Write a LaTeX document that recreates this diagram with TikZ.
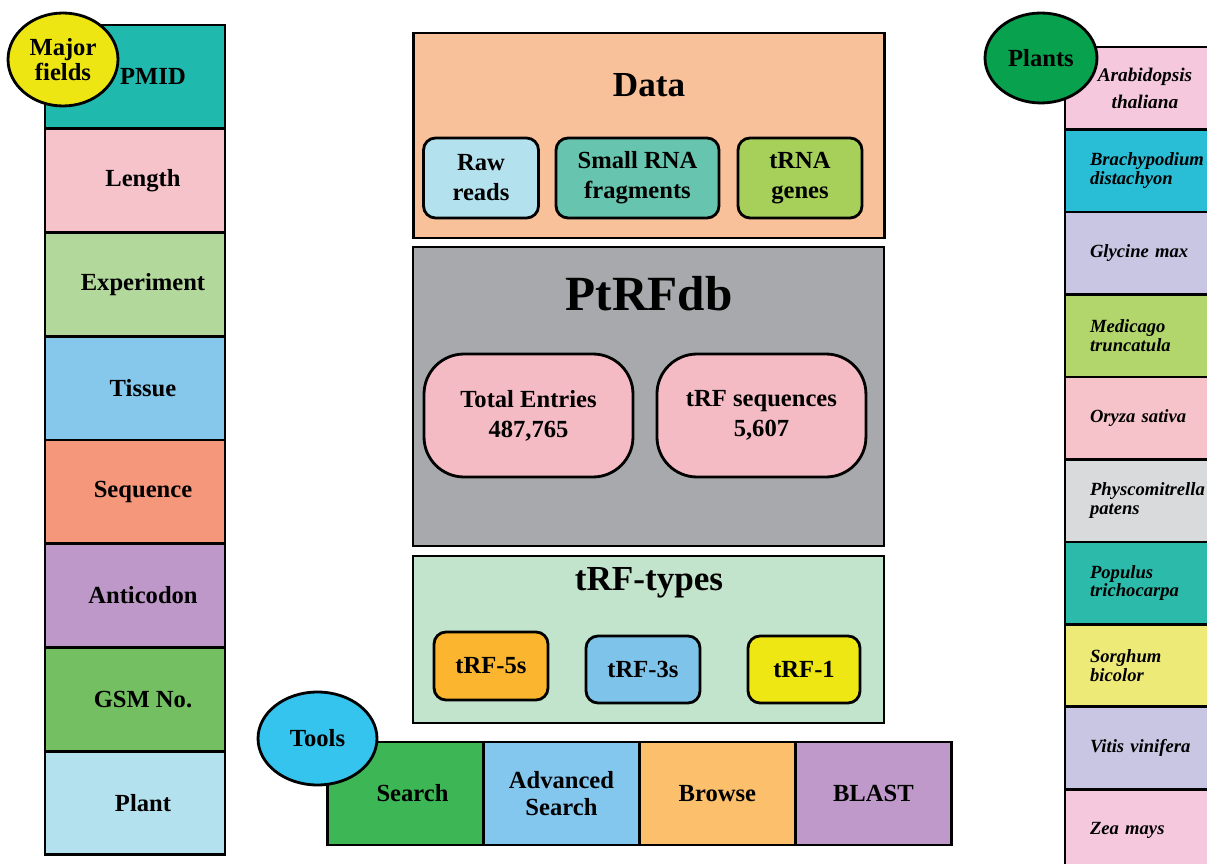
\documentclass[tikz,border=0pt]{standalone}
\usepackage{fontspec}
\setmainfont{Liberation Serif}
\usetikzlibrary{positioning,shapes.geometric}

\definecolor{cPmid}{HTML}{20B9AE}
\definecolor{cLength}{HTML}{F7C3CA}
\definecolor{cExp}{HTML}{B3D89C}
\definecolor{cTissue}{HTML}{85C8EC}
\definecolor{cSeq}{HTML}{F4977A}
\definecolor{cAnti}{HTML}{BD98C8}
\definecolor{cGsm}{HTML}{73BF62}
\definecolor{cPlant}{HTML}{B3E1ED}
\definecolor{cMajor}{HTML}{EDE613}
\definecolor{cData}{HTML}{F9C19A}
\definecolor{cRaw}{HTML}{B4E1EE}
\definecolor{cSrna}{HTML}{67C5AF}
\definecolor{cTrna}{HTML}{A7D05A}
\definecolor{cDb}{HTML}{A7A9AC}
\definecolor{cPill}{HTML}{F5BBC5}
\definecolor{cTypes}{HTML}{C3E4CC}
\definecolor{cT5}{HTML}{FBB52E}
\definecolor{cT3}{HTML}{7EC4EA}
\definecolor{cT1}{HTML}{EEE714}
\definecolor{cTools}{HTML}{35C4EE}
\definecolor{cSearch}{HTML}{3DB656}
\definecolor{cAdv}{HTML}{83C6EE}
\definecolor{cBrowse}{HTML}{FCC06C}
\definecolor{cBlast}{HTML}{BE99C9}
\definecolor{cPlants}{HTML}{08A14E}
\definecolor{cArab}{HTML}{F6C8DE}
\definecolor{cBrachy}{HTML}{2ABDD6}
\definecolor{cGly}{HTML}{C8C6E2}
\definecolor{cMed}{HTML}{B3D66C}
\definecolor{cOry}{HTML}{F7C3CA}
\definecolor{cPhy}{HTML}{D9DADB}
\definecolor{cPop}{HTML}{2CBAAB}
\definecolor{cSor}{HTML}{EEEA78}

\tikzset{
  box/.style={draw=black, line width=1.6pt, inner sep=0pt, align=center,
    font=\bfseries\fontsize{14}{17}\selectfont},
  field/.style={box, minimum width=3.6cm, minimum height=2.075cm,
    execute at begin node={\hspace*{#1}}},
  field/.default=0.32cm,
  plant/.style={box, minimum width=3.2cm, minimum height=1.65cm, text width=2.2cm,
    align=left, font=\bfseries\itshape\fontsize{10.6}{10.5}\selectfont},
  panel/.style={box, minimum width=9.42cm},
  chip/.style={box, rounded corners=0.24cm},
  tag/.style={box, ellipse},
  tool/.style={box, minimum width=3.12cm, minimum height=2.06cm},
  headline/.style={font=\bfseries\fontsize{#1}{#1}\selectfont}
}

\begin{document}
\begin{tikzpicture}[x=0.02cm, y=-0.02cm, on grid]
\clip (0,0) rectangle (1207,864);

\node[field=0.72cm, fill=cPmid] (pmid) at (135,76.9) {PMID};
\node[field, fill=cLength, below=2.075cm of pmid] (length) {Length};
\node[field, fill=cExp, below=2.075cm of length] (experiment) {Experiment};
\node[field, fill=cTissue, below=2.075cm of experiment] (tissue) {Tissue};
\node[field, fill=cSeq, below=2.075cm of tissue] (sequence) {Sequence};
\node[field, fill=cAnti, below=2.075cm of sequence] (anticodon) {Anticodon};
\node[field, fill=cGsm, below=2.075cm of anticodon] (gsm) {GSM No.};
\node[field, fill=cPlant, below=2.075cm of gsm] (plant) {Plant};
\node[tag, fill=cMajor, minimum width=2.2cm, minimum height=1.86cm,
  font=\bfseries\fontsize{14}{14}\selectfont] (major) at (63,59.5) {Major\\fields};

\node[panel, minimum height=4.1cm, fill=cData] (data) at (649,135.5) {};
\node[headline=20] (dataTitle) at (649,85) {Data};
\node[chip, fill=cRaw, minimum width=2.3cm, minimum height=1.6cm] (raw) at (481,178) {Raw\\reads};
\node[chip, fill=cSrna, minimum width=3.26cm, minimum height=1.6cm] (srna) at (637.5,178) {Small RNA\\fragments};
\node[chip, fill=cTrna, minimum width=2.48cm, minimum height=1.6cm] (trna) at (800,178) {tRNA\\genes};

\node[panel, minimum height=5.98cm, fill=cDb] (db) at (648.5,396.5) {};
\node[headline=28] (dbTitle) at (649,294) {PtRFdb};
\node[box, fill=cPill, rounded corners=0.8cm, minimum width=4.18cm, minimum height=2.46cm]
  (total) at (528.5,415.5) {Total Entries\\487,765};
\node[box, fill=cPill, rounded corners=0.8cm, minimum width=4.18cm, minimum height=2.46cm,
  right=4.66cm of total] (trfseq) {tRF sequences\\5,607};

\node[panel, minimum height=3.34cm, fill=cTypes] (types) at (648.5,639.5) {};
\node[headline=20] (typesTitle) at (649,583) {tRF-types};
\node[chip, fill=cT5, minimum width=2.28cm, minimum height=1.36cm] (t5) at (491,666) {tRF-5s};
\node[chip, fill=cT3, minimum width=2.28cm, minimum height=1.34cm] (t3) at (643,669.5) {tRF-3s};
\node[chip, fill=cT1, minimum width=2.24cm, minimum height=1.34cm] (t1) at (804,669.5) {tRF-1};

\node[tool, fill=cSearch, execute at begin node={\hspace*{0.28cm}}] (search) at (405.5,793.5) {Search};
\node[tool, fill=cAdv, right=3.12cm of search,
  font=\bfseries\fontsize{14}{15}\selectfont] (advanced) {Advanced\\Search};
\node[tool, fill=cBrowse, right=3.12cm of advanced] (browse) {Browse};
\node[tool, fill=cBlast, right=3.12cm of browse] (blast) {BLAST};
\node[tag, fill=cTools, minimum width=2.38cm, minimum height=1.86cm] (tools) at (317.5,738.5) {Tools};

\node[plant, align=center, fill=cArab, font=\bfseries\itshape\fontsize{11}{15}\selectfont]
  (arabidopsis) at (1145,88.25) {Arabidopsis\\thaliana};
\node[plant, fill=cBrachy, below=1.65cm of arabidopsis] (brachypodium) {Brachypodium\\distachyon};
\node[plant, fill=cGly, below=1.65cm of brachypodium] (glycine) {Glycine max};
\node[plant, fill=cMed, below=1.65cm of glycine] (medicago) {Medicago\\truncatula};
\node[plant, fill=cOry, below=1.65cm of medicago] (oryza) {Oryza sativa};
\node[plant, fill=cPhy, below=1.65cm of oryza] (physcomitrella) {Physcomitrella\\patens};
\node[plant, fill=cPop, below=1.65cm of physcomitrella] (populus) {Populus\\trichocarpa};
\node[plant, fill=cSor, below=1.65cm of populus] (sorghum) {Sorghum\\bicolor};
\node[plant, fill=cGly, below=1.65cm of sorghum] (vitis) {Vitis vinifera};
\node[plant, fill=cArab, below=1.65cm of vitis] (zea) {Zea mays};
\node[tag, fill=cPlants, minimum width=2.24cm, minimum height=1.8cm] (plants) at (1041,58) {Plants};
\end{tikzpicture}
\end{document}
